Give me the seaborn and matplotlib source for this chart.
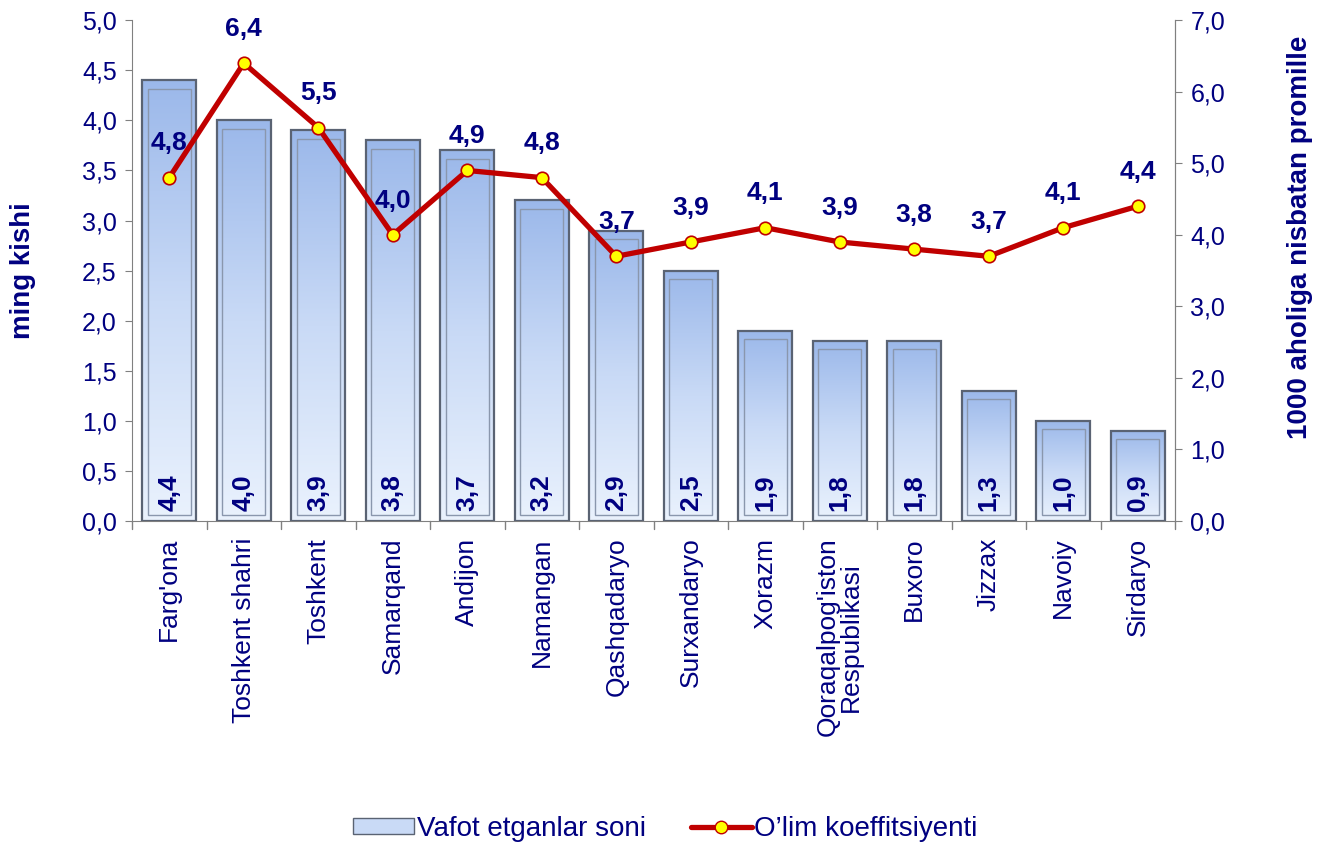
import numpy as np
import pandas as pd
import seaborn as sns
import matplotlib.pyplot as plt
from matplotlib.patches import Rectangle, Patch
from matplotlib.lines import Line2D
from matplotlib.ticker import FuncFormatter
from matplotlib.colors import LinearSegmentedColormap

regions = ["Farg'ona", "Toshkent shahri", "Toshkent", "Samarqand", "Andijon",
           "Namangan", "Qashqadaryo", "Surxandaryo", "Xorazm",
           "Qoraqalpog'iston\nRespublikasi", "Buxoro", "Jizzax", "Navoiy", "Sirdaryo"]
deaths = [4.4, 4.0, 3.9, 3.8, 3.7, 3.2, 2.9, 2.5, 1.9, 1.8, 1.8, 1.3, 1.0, 0.9]
rate = [4.8, 6.4, 5.5, 4.0, 4.9, 4.8, 3.7, 3.9, 4.1, 3.9, 3.8, 3.7, 4.1, 4.4]

NAVY = "#000080"
RED = "#C00000"

sns.set_style("white")
plt.rcParams["font.family"] = ["Liberation Sans", "DejaVu Sans"]


def comma(v, pos=None):
    return f"{v:.1f}".replace(".", ",")


df = pd.DataFrame({"region": regions, "deaths": deaths, "rate": rate})

fig = plt.figure(figsize=(13.31, 8.43), dpi=100)
ax = fig.add_axes([0.0992, 0.382, 0.7836, 0.594])

sns.barplot(data=df, x="region", y="deaths", ax=ax, width=0.72,
            color="#B8CDF0", edgecolor="none", saturation=1)

# gradient fill + bevel look
grad = np.linspace(0, 1, 256).reshape(-1, 1)
cmap = LinearSegmentedColormap.from_list("bar", ["#9BB8EA", "#C9DAF6", "#EAF2FD"])
for p in list(ax.patches):
    x0, y0 = p.get_x(), p.get_y()
    w, h = p.get_width(), p.get_height()
    im = ax.imshow(grad, extent=(x0, x0 + w, y0, y0 + h), origin="upper",
                   cmap=cmap, aspect="auto", zorder=2)
    im.set_clip_path(p)
    p.set_facecolor("none")
    p.set_edgecolor("#5A6373")
    p.set_linewidth(1.6)
    p.set_zorder(3)
    dx, dy = 0.07, 0.07
    ax.add_patch(Rectangle((x0 + dx, y0 + dy * 0.8), w - 2 * dx, h - 2 * dy,
                           fill=False, edgecolor="#8A97AD", lw=1.0, zorder=3))
    ax.text(x0 + w / 2, 0.1, comma(h), rotation=90, ha="center", va="bottom",
            color=NAVY, fontsize=19, fontweight="bold", zorder=5)

ax.set_xlim(-0.5, len(regions) - 0.5)
ax.set_ylim(0, 5)
ax.set_yticks(np.arange(0, 5.01, 0.5))
ax.yaxis.set_major_formatter(FuncFormatter(comma))
ax.set_xlabel("")
ax.set_ylabel("ming kishi", color=NAVY, fontsize=20, fontweight="bold")
ax.yaxis.set_label_coords(-0.092, 0.5)
ax.set_xticks(np.arange(len(regions)))
ax.set_xticklabels(regions, rotation=90, color=NAVY, fontsize=19, linespacing=0.95)
ax.tick_params(axis="x", length=0, pad=12)
ax.tick_params(axis="y", colors=NAVY, labelsize=18, length=5, color="#808080",
               direction="out", left=True, pad=6)
for b in np.arange(-0.5, len(regions), 1):
    ax.plot([b, b], [0, -0.08], color="#808080", lw=1, clip_on=False)
for s in ["left", "right", "bottom"]:
    ax.spines[s].set_color("#808080")
ax.spines["top"].set_visible(False)
ax.set_xlim(-0.5, len(regions) - 0.5)

ax2 = ax.twinx()
xpos = np.arange(len(regions))
sns.lineplot(x=xpos, y=rate, ax=ax2, color=RED, lw=3.8, marker="o",
             markersize=9, markerfacecolor="#FFFF00", markeredgecolor=RED,
             markeredgewidth=1.2, zorder=6)
ax2.set_ylim(0, 7)
ax2.set_yticks(np.arange(0, 7.01, 1))
ax2.yaxis.set_major_formatter(FuncFormatter(comma))
ax2.tick_params(axis="y", colors=NAVY, labelsize=18, length=5, color="#808080",
                direction="out", right=True, pad=6)
ax2.set_ylabel("1000 aholiga nisbatan promille", color=NAVY, fontsize=20,
               fontweight="bold")
ax2.yaxis.set_label_coords(1.107, 0.567)
ax2.spines["right"].set_color("#808080")
ax2.spines["top"].set_visible(False)
ax2.spines["left"].set_visible(False)
ax2.spines["bottom"].set_visible(False)
for xi, v in zip(xpos, rate):
    ax2.annotate(comma(v), (xi, v), xytext=(0, 16), textcoords="offset points",
                 ha="center", va="bottom", color=NAVY, fontsize=19,
                 fontweight="bold", zorder=7)

handles = [Patch(facecolor="#C9DAF6", edgecolor="#5A6373"),
           Line2D([0], [0], color=RED, lw=3.8, marker="o", markersize=9,
                  markerfacecolor="#FFFF00", markeredgecolor=RED)]
fig.legend(handles, ["Vafot etganlar soni", "O\u2019lim koeffitsiyenti"],
           loc="center", bbox_to_anchor=(0.5, 0.017), ncol=2, frameon=False,
           fontsize=20, labelcolor=NAVY, handlelength=2.2, columnspacing=1.6,
           handletextpad=0.1, handleheight=0.5)

fig.savefig("out.png", dpi=100)
